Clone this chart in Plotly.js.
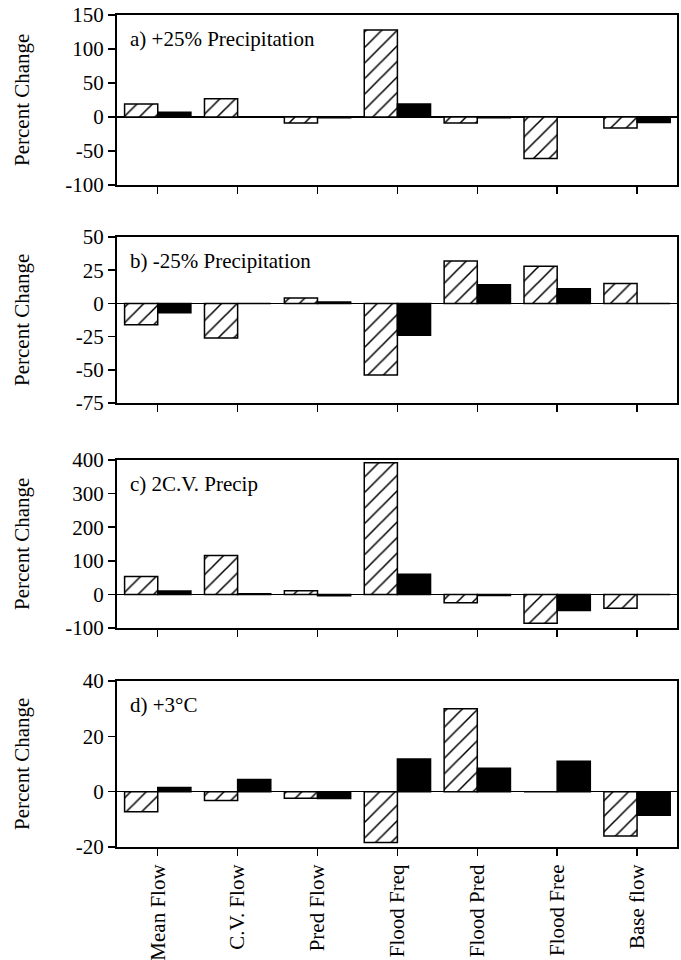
<!DOCTYPE html>
<html>
<head>
<meta charset="utf-8">
<script src="https://cdn.plot.ly/plotly-3.0.1.min.js"></script>
<style>html,body{margin:0;padding:0;background:#fff;}#chart{width:681px;height:960px;}</style>
</head>
<body>
<div id="chart"></div>
<script>
// ---- data ----
var categories = ['Mean Flow', 'C.V. Flow', 'Pred Flow', 'Flood Freq', 'Flood Pred', 'Flood Free', 'Base flow'];

var panelTitles = ['a) +25% Precipitation', 'b) -25% Precipitation', 'c) 2C.V. Precip', 'd) +3°C'];

var aHatched = [19, 27, -9, 128, -9, -61, -16];
var aSolid   = [7, 0, -1, 19, -1, 0, -8];

var bHatched = [-16, -26, 4, -54, 32, 28, 15];
var bSolid   = [-7, 0, 1, -24, 14, 11, 0];

var cHatched = [53, 116, 11, 392, -25, -86, -41];
var cSolid   = [10, 2, -4, 60, -3, -48, 0];

var dHatched = [-7.3, -3.2, -2.4, -18.4, 30, 0, -16];
var dSolid   = [1.5, 4.4, -2.5, 11.8, 8.5, 11, -8.5];

var yRanges = [[-100, 150], [-75, 50], [-100, 400], [-20, 40]];
var aTicks = [-100, -50, 0, 50, 100, 150];
var bTicks = [-75, -50, -25, 0, 25, 50];
var cTicks = [-100, 0, 100, 200, 300, 400];
var dTicks = [-20, 0, 20, 40];
var yTitle = 'Percent Change';

// ---- build ----
(function () {
  var FONT = "'Liberation Serif', 'Times New Roman', Times, 'DejaVu Serif', serif";
  var H = 960;
  var pix = [[15, 185], [237, 403], [460, 628], [681, 847]];
  var hatchedSets = [aHatched, bHatched, cHatched, dHatched];
  var solidSets = [aSolid, bSolid, cSolid, dSolid];
  var tickSets = [aTicks, bTicks, cTicks, dTicks];

  var traces = [];
  var layout = {
    width: 681, height: 960,
    margin: {l: 117, r: 4, t: 0, b: 0},
    paper_bgcolor: '#fff', plot_bgcolor: '#fff',
    showlegend: false,
    barmode: 'group',
    bargap: 0.17,
    bargroupgap: 0,
    font: {family: FONT, size: 20, color: '#000'},
    annotations: []
  };

  for (var i = 0; i < 4; i++) {
    var sfx = i === 0 ? '' : String(i + 1);
    var xa = 'x' + sfx, ya = 'y' + sfx;
    traces.push({
      type: 'bar', x: categories, y: hatchedSets[i], xaxis: xa, yaxis: ya,
      marker: {color: '#fff', line: {color: '#000', width: 1.5},
               pattern: {shape: '/', fgcolor: '#000', bgcolor: '#fff', size: 11, solidity: 0.14}},
      hoverinfo: 'skip'
    });
    traces.push({
      type: 'bar', x: categories, y: solidSets[i], xaxis: xa, yaxis: ya,
      marker: {color: '#000', line: {color: '#000', width: 1.5}},
      hoverinfo: 'skip'
    });
    var pTop = pix[i][0], pBot = pix[i][1];
    var dom = [1 - pBot / H, 1 - pTop / H];
    layout['xaxis' + sfx] = {
      anchor: ya, domain: [0, 1], type: 'category', range: [-0.51, 6.5],
      showline: true, linecolor: '#000', linewidth: 2, mirror: true,
      ticks: 'outside', ticklen: 7, tickwidth: 1.5, tickcolor: '#000',
      showgrid: false, zeroline: false,
      showticklabels: i === 3, tickangle: -90,
      tickfont: {family: FONT, size: 21, color: '#000'}
    };
    layout['yaxis' + sfx] = {
      anchor: xa, domain: dom, range: yRanges[i],
      tickmode: 'array', tickvals: tickSets[i],
      ticktext: tickSets[i].map(function (v) { return String(v); }),
      showline: true, linecolor: '#000', linewidth: 2, mirror: true,
      ticks: 'outside', ticklen: 7, tickwidth: 1.5, tickcolor: '#000',
      showgrid: false, zeroline: true, zerolinecolor: '#000', zerolinewidth: 1.5,
      tickfont: {family: FONT, size: 21, color: '#000'}
    };
    var ph = pBot - pTop;
    layout.annotations.push({
      text: panelTitles[i], xref: 'paper', yref: ya + ' domain',
      x: 11 / 560, y: 1 - 24 / ph, xanchor: 'left', yanchor: 'middle',
      showarrow: false, font: {family: FONT, size: 21, color: '#000'}
    });
    layout.annotations.push({
      text: yTitle, xref: 'paper', yref: ya + ' domain',
      x: (22 - 117) / 560, y: 0.5, xanchor: 'center', yanchor: 'middle',
      textangle: -90, showarrow: false, font: {family: FONT, size: 21, color: '#000'}
    });
  }

  Plotly.newPlot('chart', traces, layout, {staticPlot: true, displayModeBar: false});
})();
</script>
</body>
</html>
